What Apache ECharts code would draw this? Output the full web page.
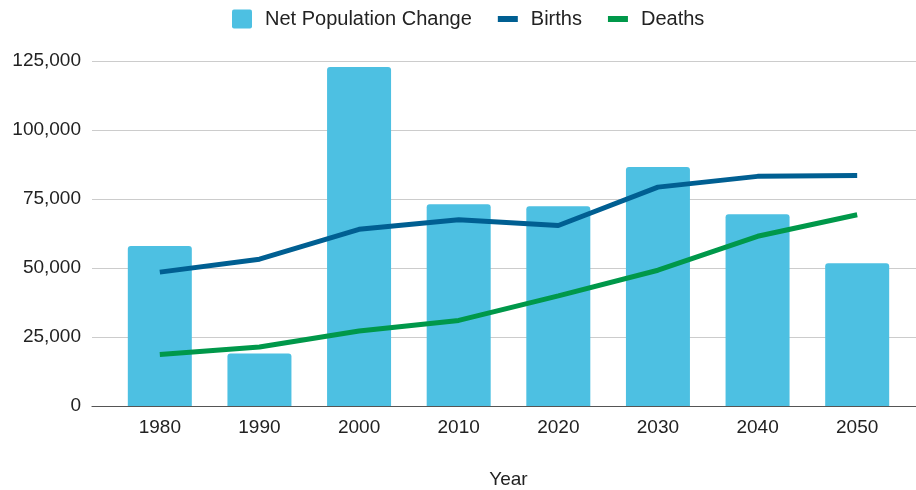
<!DOCTYPE html>
<html>
<head>
<meta charset="utf-8">
<script src="https://cdn.jsdelivr.net/npm/echarts@6/dist/echarts.min.js"></script>
<style>
  html, body { margin: 0; padding: 0; background: #fff; }
  #chart { width: 916px; height: 490px; }
</style>
</head>
<body>
<div id="chart"></div>
<script>
// Population components by decade
const years = ['1980', '1990', '2000', '2010', '2020', '2030', '2040', '2050'];
const netChange = [58000, 19000, 122800, 73100, 72400, 86600, 69500, 51700];
const births = [48500, 53200, 64000, 67500, 65400, 79300, 83200, 83500];
const deaths = [18700, 21400, 27200, 31000, 39900, 49200, 61500, 69300];

// Value axis range
const yMin = 0;
const yMax = 125000;
const yStep = 25000;

const FONT = "'Liberation Sans', Arial, sans-serif";
const TEXT = '#222222';
const BAR = '#4dc0e2';
const BIRTHS = '#005f92';
const DEATHS = '#00984a';

const chart = echarts.init(document.getElementById('chart'), null, { renderer: 'canvas' });

chart.setOption({
  animation: false,
  backgroundColor: '#ffffff',
  textStyle: { fontFamily: FONT },
  legend: {
    top: 4,
    left: 227,
    itemWidth: 20,
    itemHeight: 19,
    itemGap: 26,
    symbolKeepAspect: true,
    textStyle: { fontFamily: FONT, fontSize: 20, color: TEXT, padding: [0, 0, 0, 8] },
    data: [
      { name: 'Net Population Change', icon: 'path://M2,0 L18,0 Q20,0 20,2 L20,17 Q20,19 18,19 L2,19 Q0,19 0,17 L0,2 Q0,0 2,0 Z' },
      { name: 'Births', icon: 'path://M0,0 L20,0 L20,6 L0,6 Z' },
      { name: 'Deaths', icon: 'path://M0,0 L20,0 L20,6 L0,6 Z' }
    ]
  },
  grid: [
    // full-width frame: value labels, gridlines and baseline
    { left: 92, right: 0, top: 61, bottom: 84, outerBoundsMode: 'none' },
    // category area holding the bars and lines
    { left: 110, right: 9, top: 61, bottom: 84, outerBoundsMode: 'none' }
  ],
  xAxis: [
    {
      gridIndex: 0,
      type: 'value',
      min: 0,
      max: 1,
      z: 5,
      axisLine: { show: true, lineStyle: { color: '#555555', width: 1.2 } },
      axisTick: { show: false },
      axisLabel: { show: false },
      splitLine: { show: false }
    },
    {
      gridIndex: 1,
      type: 'category',
      data: years,
      name: 'Year',
      nameLocation: 'middle',
      nameGap: 64,
      nameTextStyle: { fontFamily: FONT, fontSize: 19, color: TEXT },
      axisLine: { show: false },
      axisTick: { show: false },
      axisLabel: { fontFamily: FONT, fontSize: 19, color: TEXT, margin: 12 }
    }
  ],
  yAxis: [
    {
      gridIndex: 0,
      type: 'value',
      min: yMin,
      max: yMax,
      interval: yStep,
      axisLine: { show: false },
      axisTick: { show: false },
      axisLabel: {
        fontFamily: FONT,
        fontSize: 19,
        color: TEXT,
        margin: 11,
        padding: [2, 0, 0, 0],
        formatter: v => v.toLocaleString('en-US')
      },
      splitLine: { lineStyle: { color: '#cccccc', width: 1 } }
    },
    {
      gridIndex: 1,
      type: 'value',
      min: yMin,
      max: yMax,
      interval: yStep,
      axisLine: { show: false },
      axisTick: { show: false },
      axisLabel: { show: false },
      splitLine: { show: false }
    }
  ],
  series: [
    {
      name: 'Net Population Change',
      type: 'bar',
      xAxisIndex: 1,
      yAxisIndex: 1,
      data: netChange,
      barWidth: 64,
      itemStyle: { color: BAR, borderRadius: [3, 3, 0, 0] },
      z: 2
    },
    {
      name: 'Births',
      type: 'line',
      xAxisIndex: 1,
      yAxisIndex: 1,
      data: births,
      symbol: 'none',
      lineStyle: { color: BIRTHS, width: 5, cap: 'butt' },
      itemStyle: { color: BIRTHS },
      z: 3
    },
    {
      name: 'Deaths',
      type: 'line',
      xAxisIndex: 1,
      yAxisIndex: 1,
      data: deaths,
      symbol: 'none',
      lineStyle: { color: DEATHS, width: 5, cap: 'butt' },
      itemStyle: { color: DEATHS },
      z: 3
    }
  ]
});
</script>
</body>
</html>
